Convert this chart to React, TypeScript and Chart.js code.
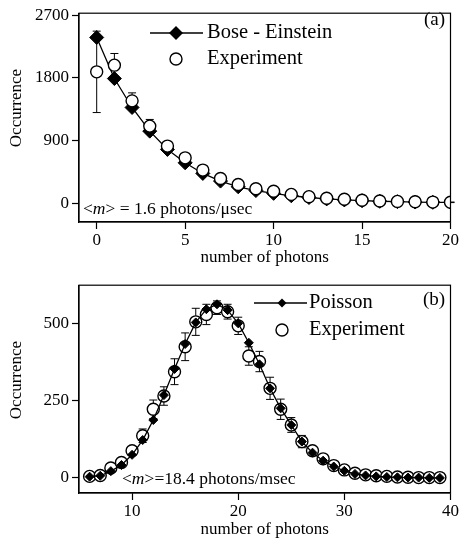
import React, { useEffect, useRef } from "react";
import { Chart, registerables } from "chart.js";

Chart.register(...registerables);

const FONT = "'Liberation Serif', 'Times New Roman', serif";

// Panel (a): Bose-Einstein vs experiment
const topN = [0, 1, 2, 3, 4, 5, 6, 7, 8, 9, 10, 11, 12, 13, 14, 15, 16, 17, 18, 19, 20];
const boseEinstein = [2380, 1790, 1374, 1034, 771, 579, 426, 316, 234, 180, 140, 105, 80, 60, 45, 34, 26, 20, 15, 11, 9];
const topExperiment = [1886, 1982, 1469, 1106, 819, 650, 474, 354, 268, 205, 170, 125, 92, 70, 54, 40, 30, 24, 18, 14, 11];
const topError = [585, 168, 115, 96, 60, 45, 35, 28, 22, 18, 15, 12, 10, 9, 8, 7, 6, 5, 5, 4, 4];
const topXTicks = [0, 5, 10, 15, 20];
const topYTicks = [0, 900, 1800, 2700];

// Panel (b): Poisson vs experiment
const botN = [6, 7, 8, 9, 10, 11, 12, 13, 14, 15, 16, 17, 18, 19, 20, 21, 22, 23, 24, 25, 26, 27, 28, 29, 30, 31, 32, 33, 34, 35, 36, 37, 38, 39];
const poisson = [4, 7, 22, 42, 75, 123, 188, 269, 354, 435, 505, 548, 564, 545, 502, 439, 369, 291, 226, 172, 118, 82, 56, 37, 23, 13, 8, 5, 3, 2, 1, 1, 0, 0];
const botExperiment = [5, 8, 32, 50, 88, 137, 223, 266, 345, 426, 507, 531, 553, 540, 494, 396, 378, 291, 223, 172, 118, 88, 62, 40, 26, 15, 10, 7, 5, 3, 2, 1, 1, 1];
const botError = [2, 3, 5, 7, 10, 22, 30, 30, 42, 45, 44, 33, 22, 24, 28, 30, 33, 36, 33, 24, 20, 14, 10, 7, 5, 3, 2, 2, 2, 1, 1, 1, 1, 1];
const botXTicks = [10, 20, 30, 40];
const botYTicks = [0, 250, 500];

type Part = { t: string; i?: boolean };

function drawParts(ctx: CanvasRenderingContext2D, x: number, y: number, size: number, parts: Part[]) {
  let cx = x;
  ctx.textBaseline = "middle";
  ctx.textAlign = "left";
  for (const p of parts) {
    ctx.font = `${p.i ? "italic " : ""}${size}px ${FONT}`;
    ctx.fillText(p.t, cx, y);
    cx += ctx.measureText(p.t).width;
  }
}

function makeChart(
  canvas: HTMLCanvasElement,
  cfg: {
    xs: number[];
    model: number[];
    modelLabel: string;
    exp: number[];
    err: number[];
    xMin: number;
    xMax: number;
    yMin: number;
    yMax: number;
    xTicks: number[];
    yTicks: number[];
    modelRadius: number;
    modelOnTop: boolean;
    axisHeight: number;
    decorate: (ctx: CanvasRenderingContext2D, chart: any) => void;
  }
) {
  const modelData = cfg.xs.map((x, i) => ({ x, y: cfg.model[i] }));
  const expData = cfg.xs.map((x, i) => ({ x, y: cfg.exp[i] }));

  const errorBars = {
    id: "errorBars",
    beforeDatasetsDraw(chart: any) {
      const ctx = chart.ctx;
      const xs = chart.scales.x;
      const ys = chart.scales.y;
      ctx.save();
      ctx.strokeStyle = "#000";
      ctx.lineWidth = 1;
      cfg.xs.forEach((n, i) => {
        const px = xs.getPixelForValue(n);
        const top = ys.getPixelForValue(cfg.exp[i] + cfg.err[i]);
        const bot = ys.getPixelForValue(cfg.exp[i] - cfg.err[i]);
        ctx.beginPath();
        ctx.moveTo(px, top);
        ctx.lineTo(px, bot);
        ctx.moveTo(px - 4, top);
        ctx.lineTo(px + 4, top);
        ctx.moveTo(px - 4, bot);
        ctx.lineTo(px + 4, bot);
        ctx.stroke();
      });
      ctx.restore();
    },
  };

  const frameAndText = {
    id: "frameAndText",
    afterDraw(chart: any) {
      const ctx = chart.ctx;
      const a = chart.chartArea;
      ctx.save();
      ctx.strokeStyle = "#000";
      ctx.lineWidth = 1.2;
      ctx.strokeRect(a.left, a.top, a.right - a.left, a.bottom - a.top);
      ctx.fillStyle = "#000";
      // y-axis title
      ctx.save();
      ctx.translate(17, 108);
      ctx.rotate(-Math.PI / 2);
      ctx.font = `17px ${FONT}`;
      ctx.textAlign = "center";
      ctx.textBaseline = "middle";
      ctx.fillText("Occurrence", 0, 0);
      ctx.restore();
      cfg.decorate(ctx, chart);
      ctx.restore();
    },
  };

  const modelDs: any = {
    label: cfg.modelLabel,
    data: modelData,
    borderColor: "#000",
    backgroundColor: "#000",
    borderWidth: 1.3,
    pointStyle: "rectRot",
    pointRadius: cfg.modelRadius,
    pointBackgroundColor: "#000",
    pointBorderColor: "#000",
    pointBorderWidth: 1,
    showLine: true,
    order: cfg.modelOnTop ? 0 : 1,
  };
  const expDs: any = {
    label: "Experiment",
    data: expData,
    showLine: false,
    pointStyle: "circle",
    pointRadius: 6,
    pointBackgroundColor: "#fff",
    pointBorderColor: "#000",
    pointBorderWidth: 1.4,
    order: cfg.modelOnTop ? 1 : 0,
  };

  const plain = (v: any) => String(v);

  return new Chart(canvas, {
    type: "scatter",
    data: { datasets: [modelDs, expDs] },
    options: {
      animation: false,
      responsive: false,
      maintainAspectRatio: false,
      layout: { padding: { top: 13, right: 9, left: 0, bottom: 0 } },
      plugins: { legend: { display: false }, tooltip: { enabled: false } },
      scales: {
        x: {
          type: "linear",
          min: cfg.xMin,
          max: cfg.xMax,
          afterBuildTicks: (s: any) => {
            s.ticks = cfg.xTicks.map((v) => ({ value: v }));
          },
          afterFit: (s: any) => {
            s.height = cfg.axisHeight;
          },
          grid: { drawOnChartArea: false, drawTicks: true, tickLength: 7, color: "#000", tickWidth: 1.2 },
          border: { display: true, color: "#000", width: 1.2 },
          ticks: { color: "#000", font: { family: FONT, size: 17 }, padding: 1, maxRotation: 0, callback: plain },
          title: {
            display: true,
            text: "number of photons",
            color: "#000",
            font: { family: FONT, size: 17 },
            padding: { top: 0, bottom: 4 },
          },
        },
        y: {
          type: "linear",
          min: cfg.yMin,
          max: cfg.yMax,
          afterBuildTicks: (s: any) => {
            s.ticks = cfg.yTicks.map((v) => ({ value: v }));
          },
          afterFit: (s: any) => {
            s.width = 79;
          },
          grid: { drawOnChartArea: false, drawTicks: true, tickLength: 7, color: "#000", tickWidth: 1.2 },
          border: { display: true, color: "#000", width: 1.2 },
          ticks: { color: "#000", font: { family: FONT, size: 17 }, padding: 3, callback: plain },
        },
      },
    } as any,
    plugins: [errorBars, frameAndText],
  });
}

export default function App() {
  const topRef = useRef<HTMLCanvasElement>(null);
  const botRef = useRef<HTMLCanvasElement>(null);

  useEffect(() => {
    const c1 = makeChart(topRef.current!, {
      xs: topN,
      model: boseEinstein,
      modelLabel: "Bose - Einstein",
      exp: topExperiment,
      err: topError,
      xMin: -1,
      xMax: 20,
      yMin: -272,
      yMax: 2729,
      xTicks: topXTicks,
      yTicks: topYTicks,
      modelRadius: 7,
      modelOnTop: false,
      axisHeight: 50,
      decorate: (ctx) => {
        ctx.lineWidth = 1.3;
        ctx.beginPath();
        ctx.moveTo(150, 33);
        ctx.lineTo(203, 33);
        ctx.stroke();
        ctx.beginPath();
        ctx.moveTo(169, 33);
        ctx.lineTo(176, 26);
        ctx.lineTo(183, 33);
        ctx.lineTo(176, 40);
        ctx.closePath();
        ctx.fill();
        ctx.beginPath();
        ctx.arc(176, 59, 6, 0, Math.PI * 2);
        ctx.fillStyle = "#fff";
        ctx.fill();
        ctx.lineWidth = 1.4;
        ctx.stroke();
        ctx.fillStyle = "#000";
        drawParts(ctx, 207, 33, 20.5, [{ t: "Bose - Einstein" }]);
        drawParts(ctx, 207, 59, 20.5, [{ t: "Experiment" }]);
        drawParts(ctx, 424, 20, 19, [{ t: "(a)" }]);
        drawParts(ctx, 83, 209, 17.5, [{ t: "<" }, { t: "m", i: true }, { t: "> = 1.6 photons/\u03bcsec" }]);
      },
    });
    const c2 = makeChart(botRef.current!, {
      xs: botN,
      model: poisson,
      modelLabel: "Poisson",
      exp: botExperiment,
      err: botError,
      xMin: 5,
      xMax: 40,
      yMin: -49,
      yMax: 626,
      xTicks: botXTicks,
      yTicks: botYTicks,
      modelRadius: 4.5,
      modelOnTop: true,
      axisHeight: 51,
      decorate: (ctx) => {
        ctx.lineWidth = 1.3;
        ctx.beginPath();
        ctx.moveTo(254, 31);
        ctx.lineTo(307, 31);
        ctx.stroke();
        ctx.beginPath();
        ctx.moveTo(277.5, 31);
        ctx.lineTo(282, 26.5);
        ctx.lineTo(286.5, 31);
        ctx.lineTo(282, 35.5);
        ctx.closePath();
        ctx.fill();
        ctx.beginPath();
        ctx.arc(282, 58, 6, 0, Math.PI * 2);
        ctx.fillStyle = "#fff";
        ctx.fill();
        ctx.lineWidth = 1.4;
        ctx.stroke();
        ctx.fillStyle = "#000";
        drawParts(ctx, 309, 31, 20.5, [{ t: "Poisson" }]);
        drawParts(ctx, 309, 58, 20.5, [{ t: "Experiment" }]);
        drawParts(ctx, 423, 28, 19, [{ t: "(b)" }]);
        drawParts(ctx, 122, 207, 17.5, [{ t: "<" }, { t: "m", i: true }, { t: ">=18.4 photons/msec" }]);
      },
    });
    return () => {
      c1.destroy();
      c2.destroy();
    };
  }, []);

  return (
    <div style={{ position: "absolute", left: 0, top: 0, width: 460, height: 544, background: "#fff" }}>
      <canvas ref={topRef} width={460} height={272} style={{ position: "absolute", left: 0, top: 0, width: 460, height: 272 }} />
      <canvas ref={botRef} width={460} height={272} style={{ position: "absolute", left: 0, top: 272, width: 460, height: 272 }} />
    </div>
  );
}
